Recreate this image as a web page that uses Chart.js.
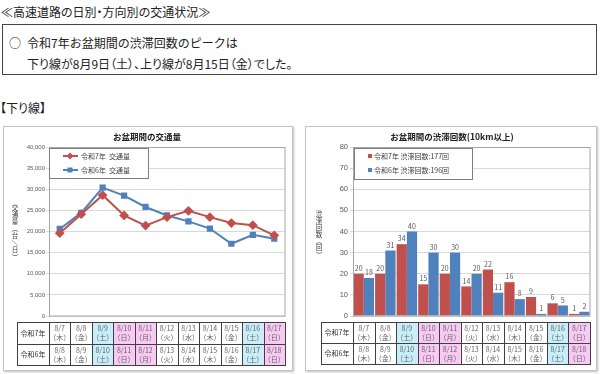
<!DOCTYPE html>
<html lang="ja">
<head>
<meta charset="utf-8">
<script src="https://cdn.jsdelivr.net/npm/chart.js@4.4.1/dist/chart.umd.min.js"></script>
<style>
  body { margin: 0; width: 600px; height: 374px; background: #fff; position: relative; overflow: hidden;
         font-family: "Noto Sans CJK JP", sans-serif; color: #222; }
  .abs { position: absolute; white-space: nowrap; }
  #head { left: 1px; top: 3px; font-size: 12px; line-height: 17px; font-feature-settings: "palt"; }
  #note { left: 2px; top: 24px; width: 593px; height: 49px; border: 1.5px solid #444; }
  #note .l { position: absolute; font-size: 12px; line-height: 17px; }
  #sub { left: 0; top: 99px; font-size: 12px; line-height: 17px; font-feature-settings: "palt"; }
  .panel { position: absolute; top: 126px; height: 244px; }
  .frame { position: absolute; top: 126px; height: 243px; border: 1px solid #c4c4c4;
           box-shadow: 1px 1px 2px #bdbdbd; pointer-events: none; }
</style>
</head>
<body>
<div id="head" class="abs">≪高速道路の日別・方向別の交通状況≫</div>
<div id="note" class="abs">
  <div class="l" style="left:6px;top:9px;">○</div>
  <div class="l" style="left:24px;top:9px;">令和7年お盆期間の渋滞回数のピークは</div>
  <div class="l" style="left:24px;top:30px;font-feature-settings:'palt';">下り線が8月9日（土）、上り線が8月15日（金）でした。</div>
</div>
<div id="sub" class="abs">【下り線】</div>

<div class="panel" style="left:3px;width:290px;"><canvas id="trafficChart" width="290" height="244"></canvas></div>
<div class="frame" style="left:3px;width:288px;"></div>
<div class="panel" style="left:305px;width:292px;"><canvas id="jamChart" width="292" height="244"></canvas></div>
<div class="frame" style="left:305px;width:290px;"></div>

<script>
// dates for each year (same weekday columns)
const days7 = ['8/7', '8/8', '8/9', '8/10', '8/11', '8/12', '8/13', '8/14', '8/15', '8/16', '8/17'];
const days6 = ['8/8', '8/9', '8/10', '8/11', '8/12', '8/13', '8/14', '8/15', '8/16', '8/17', '8/18'];
const weekdays = ['木', '金', '土', '日', '月', '火', '水', '木', '金', '土', '日'];
const dayKind = ['', '', 'sat', 'hol', 'hol', '', '', '', '', 'sat', 'hol'];

// traffic volume (台/日)
const traffic7 = [19600, 24100, 28600, 23800, 21400, 23400, 24900, 23400, 22000, 21500, 19100];
const traffic6 = [20600, 24400, 30400, 28500, 25800, 23800, 22400, 20700, 17100, 19200, 18300];

// congestion count (10km+)
const jam7 = [20, 20, 34, 15, 20, 14, 22, 16, 9, 6, 1];
const jam6 = [18, 31, 40, 30, 30, 20, 11, 8, 1, 5, 2];

const RED = '#c0504d';
const BLUE = '#4f81bd';
const JP = '"Noto Sans CJK JP", sans-serif';
Chart.defaults.font.family = JP;

const total = arr => arr.reduce((s, v) => s + v, 0);

// draws title, frame, legend, vertical axis title, bar labels and the date table
const deco = {
  id: 'deco',
  afterDatasetsDraw(chart, args, o) {
    const ctx = chart.ctx;
    const a = chart.chartArea;
    const x = chart.scales.x;
    ctx.save();

    // plot frame
    ctx.strokeStyle = '#a6a6a6';
    ctx.lineWidth = 1;
    const l = Math.round(a.left) + .5, t = Math.round(a.top) + .5;
    ctx.strokeRect(l, t, Math.round(a.right) - l, Math.round(a.bottom) - t);

    // bar values
    if (o.barLabels) {
      ctx.font = '7px ' + JP;
      ctx.fillStyle = '#595959';
      ctx.textAlign = 'center';
      ctx.textBaseline = 'bottom';
      chart.data.datasets.forEach((ds, di) => {
        chart.getDatasetMeta(di).data.forEach((bar, i) => {
          ctx.fillText(ds.data[i], bar.x, bar.y - 2);
        });
      });
    }

    // legend box
    const L = o.legend;
    ctx.fillStyle = '#fff';
    ctx.fillRect(L.x, L.y, L.w, L.h);
    ctx.strokeStyle = '#7f7f7f';
    ctx.strokeRect(L.x + .5, L.y + .5, L.w, L.h);
    ctx.font = '7px ' + JP;
    ctx.textAlign = 'left';
    ctx.textBaseline = 'middle';
    chart.data.datasets.forEach((ds, i) => {
      const cy = L.y + 8 + i * 14;
      ctx.fillStyle = ds.borderColor || ds.backgroundColor;
      ctx.strokeStyle = ds.borderColor || ds.backgroundColor;
      if (o.lineLegend) {
        ctx.lineWidth = 2;
        ctx.beginPath(); ctx.moveTo(L.mx - 7, cy); ctx.lineTo(L.mx + 8, cy); ctx.stroke();
        if (ds.pointStyle === 'rectRot') {
          ctx.beginPath();
          ctx.moveTo(L.mx, cy - 3.5); ctx.lineTo(L.mx + 3.5, cy);
          ctx.lineTo(L.mx, cy + 3.5); ctx.lineTo(L.mx - 3.5, cy); ctx.closePath(); ctx.fill();
        } else {
          ctx.fillRect(L.mx - 2.5, cy - 2.5, 5, 5);
        }
      } else {
        ctx.fillRect(L.mx - 2, cy - 2, 4, 4);
      }
      ctx.fillStyle = '#404040';
      ctx.fillText(ds.label, L.tx, cy);
    });

    // title
    ctx.font = 'bold 8.5px ' + JP;
    ctx.fillStyle = '#222';
    ctx.textAlign = 'center';
    ctx.textBaseline = 'middle';
    ctx.fillText(o.title, o.titleX, 11);

    // vertical y title
    ctx.font = '6.5px ' + JP;
    ctx.fillStyle = '#404040';
    [...o.yTitle].forEach((ch, i) => {
      const cy = o.yTitleY + i * o.yTitleStep;
      ctx.save();
      ctx.translate(o.yTitleX, cy);
      if ('（）／'.includes(ch)) ctx.rotate(Math.PI / 2);
      ctx.fillText(ch, 0, 0);
      ctx.restore();
    });

    // date table
    const T = o.table;
    const cw = (x.right - x.left) / days7.length;
    const rows = [[T.top, T.mid, '令和7年', days7], [T.mid, T.bottom, '令和6年', days6]];
    rows.forEach(([y0, y1, name, days]) => {
      days.forEach((d, i) => {
        const cx0 = x.left + i * cw;
        if (dayKind[i] === 'sat') { ctx.fillStyle = '#c7eef9'; ctx.fillRect(cx0, y0, cw, y1 - y0); }
        if (dayKind[i] === 'hol') { ctx.fillStyle = '#f7c9f3'; ctx.fillRect(cx0, y0, cw, y1 - y0); }
        ctx.fillStyle = '#666';
        ctx.font = '7px ' + JP;
        ctx.fillText(d, cx0 + cw / 2, y0 + 6);
        ctx.fillText('（' + weekdays[i] + '）', cx0 + cw / 2, y0 + 15);
      });
      ctx.fillStyle = '#333';
      ctx.font = '7px ' + JP;
      ctx.fillText(name, (T.left + x.left) / 2, (y0 + y1) / 2);
    });
    ctx.strokeStyle = '#404040';
    ctx.lineWidth = 1;
    ctx.beginPath();
    [T.top, T.mid, T.bottom].forEach(y => { ctx.moveTo(T.left, y + .5); ctx.lineTo(x.right, y + .5); });
    ctx.moveTo(T.left + .5, T.top); ctx.lineTo(T.left + .5, T.bottom + 1);
    for (let i = 0; i <= days7.length; i++) {
      const gx = Math.round(x.left + i * cw) + .5;
      ctx.moveTo(gx, T.top); ctx.lineTo(gx, T.bottom + 1);
    }
    ctx.stroke();
    ctx.restore();
  }
};

const yCommon = {
  min: 0,
  grid: { color: '#d9d9d9', tickLength: 3 },
  border: { color: '#a6a6a6' }
};

new Chart(document.getElementById('trafficChart'), {
  type: 'line',
  data: {
    labels: days7,
    datasets: [{
      label: '令和7年  交通量',
      data: traffic7,
      borderColor: RED,
      backgroundColor: RED,
      borderWidth: 2,
      pointStyle: 'rectRot',
      pointRadius: 3.5,
      tension: 0
    }, {
      label: '令和6年  交通量',
      data: traffic6,
      borderColor: BLUE,
      backgroundColor: BLUE,
      borderWidth: 2,
      pointStyle: 'rect',
      pointRadius: 3,
      tension: 0
    }]
  },
  options: {
    responsive: false,
    animation: false,
    layout: { padding: { top: 21, bottom: 54, left: 0, right: 8 } },
    scales: {
      x: { type: 'category', offset: true, display: false },
      y: {
        ...yCommon,
        max: 40000,
        ticks: { stepSize: 5000, padding: 1, color: '#595959', font: { size: 6, family: '"Liberation Sans", sans-serif' },
                 callback: v => v.toLocaleString('en-US') },
        afterFit(s) { s.width = 46; }
      }
    },
    plugins: {
      legend: { display: false },
      tooltip: { enabled: false },
      deco: {
        title: 'お盆期間の交通量', titleX: 144,
        lineLegend: true,
        legend: { x: 46, y: 22, w: 99, h: 30, mx: 67, tx: 78 },
        yTitle: '交通量（台／日）', yTitleX: 12, yTitleY: 82, yTitleStep: 7,
        table: { left: 14, top: 196, mid: 218, bottom: 239 }
      }
    }
  },
  plugins: [deco]
});

new Chart(document.getElementById('jamChart'), {
  type: 'bar',
  data: {
    labels: days7,
    datasets: [{
      label: '令和7年 渋滞回数:' + total(jam7) + '回',
      data: jam7,
      backgroundColor: RED
    }, {
      label: '令和6年 渋滞回数:' + total(jam6) + '回',
      data: jam6,
      backgroundColor: BLUE
    }]
  },
  options: {
    responsive: false,
    animation: false,
    datasets: { bar: { categoryPercentage: 0.95, barPercentage: 1 } },
    layout: { padding: { top: 21, bottom: 54, left: 0, right: 7 } },
    scales: {
      x: { display: false },
      y: {
        ...yCommon,
        max: 80,
        ticks: { stepSize: 10, padding: 2, color: '#595959', font: { size: 7.5, family: '"Liberation Sans", sans-serif' } },
        afterFit(s) { s.width = 48; }
      }
    },
    plugins: {
      legend: { display: false },
      tooltip: { enabled: false },
      deco: {
        title: 'お盆期間の渋滞回数(10km以上)', titleX: 147,
        barLabels: true,
        legend: { x: 49, y: 22, w: 118, h: 31, mx: 65, tx: 69 },
        yTitle: '渋滞回数（回）', yTitleX: 14, yTitleY: 88, yTitleStep: 6.8,
        table: { left: 16, top: 196, mid: 217, bottom: 238 }
      }
    }
  },
  plugins: [deco]
});
</script>
</body>
</html>
